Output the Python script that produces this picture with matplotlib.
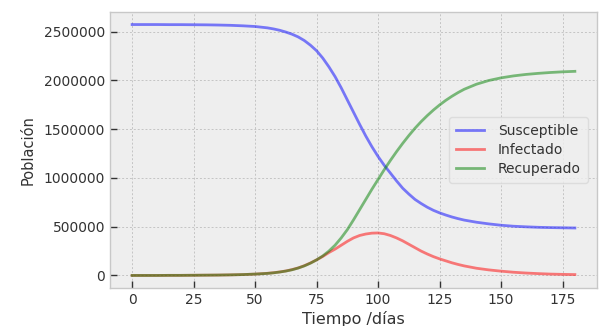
import matplotlib
matplotlib.use("Agg")
import matplotlib.pyplot as plt

# Días de simulación (más densos donde las curvas cambian rápido)
dias = [0, 5, 10, 15, 20, 25, 30, 35, 40, 45, 50,
        55, 57.5, 60, 62.5, 65, 67.5, 70, 72.5, 75, 77.5,
        80, 82.5, 85, 87.5, 90, 92.5, 95, 97.5,
        100, 102.5, 105, 107.5, 110, 112.5, 115, 117.5,
        120, 122.5, 125, 127.5, 130, 132.5, 135,
        140, 145, 150, 155, 160, 165, 170, 175, 180]

# Poblaciones en millones de personas
susceptibles = [2.574, 2.574, 2.574, 2.573, 2.573, 2.572, 2.571, 2.569, 2.566, 2.561, 2.554,
                2.540, 2.529, 2.515, 2.497, 2.475, 2.447, 2.410, 2.362, 2.305, 2.230,
                2.140, 2.040, 1.925, 1.800, 1.675, 1.550, 1.430, 1.320,
                1.220, 1.130, 1.050, 0.970, 0.895, 0.835, 0.780, 0.738,
                0.700, 0.668, 0.642, 0.620, 0.600, 0.583, 0.568,
                0.546, 0.529, 0.515, 0.505, 0.499, 0.494, 0.491, 0.489, 0.487]

infectados = [0.000, 0.000, 0.000, 0.001, 0.001, 0.002, 0.003, 0.004, 0.006, 0.009, 0.014,
              0.022, 0.028, 0.036, 0.046, 0.060, 0.077, 0.100, 0.128, 0.160, 0.195,
              0.235, 0.270, 0.310, 0.350, 0.385, 0.410, 0.425, 0.434,
              0.436, 0.428, 0.410, 0.385, 0.355, 0.320, 0.285, 0.250,
              0.220, 0.193, 0.170, 0.150, 0.130, 0.113, 0.098,
              0.074, 0.057, 0.044, 0.033, 0.025, 0.019, 0.014, 0.011, 0.009]

recuperados = [0.000, 0.000, 0.000, 0.001, 0.001, 0.002, 0.003, 0.004, 0.006, 0.009, 0.014,
               0.021, 0.027, 0.035, 0.045, 0.058, 0.076, 0.098, 0.126, 0.160, 0.200,
               0.250, 0.310, 0.385, 0.470, 0.570, 0.675, 0.780, 0.885,
               0.985, 1.085, 1.180, 1.270, 1.355, 1.435, 1.510, 1.578,
               1.640, 1.697, 1.749, 1.796, 1.838, 1.876, 1.910,
               1.962, 2.000, 2.027, 2.047, 2.062, 2.073, 2.082, 2.089, 2.094]

series = [
    ("Susceptible", susceptibles, "b"),
    ("Infectado", infectados, "r"),
    ("Recuperado", recuperados, "g"),
]

fig = plt.figure(figsize=(5.99, 3.26), dpi=100)
ax = fig.add_axes([110 / 599, 1 - 288 / 326, (597 - 110) / 599, (288 - 12) / 326])
ax.set_facecolor("#eeeeee")
ax.set_axisbelow(True)

for nombre, valores, color in series:
    ax.plot(dias, [v * 1e6 for v in valores], color=color, alpha=0.5, lw=2, label=nombre)

ax.set_xlabel("Tiempo /días", fontsize=11.5, color="#333333", labelpad=3)
ax.set_ylabel("Población", fontsize=10.5, color="#333333", labelpad=6)
ax.set_xticks(range(0, 176, 25))
ax.set_yticks(range(0, 2500001, 500000))
ax.ticklabel_format(axis="y", style="plain", useOffset=False)
ax.tick_params(direction="in", length=5, width=1, labelsize=10,
               color="#333333", labelcolor="#333333")

ax.grid(True, color="#c4c4c4", linestyle="--", linewidth=0.7, dashes=(2, 2))
for s in ax.spines.values():
    s.set_color("#c8c8c8")
    s.set_linewidth(1)

leg = ax.legend(loc="center right", fontsize=10, frameon=True, fancybox=True,
                labelspacing=0.35, borderaxespad=0.65, handletextpad=1.0,
                borderpad=0.5)
leg.get_frame().set_facecolor("#efefef")
leg.get_frame().set_edgecolor("#d8d8d8")
for t in leg.get_texts():
    t.set_color("#333333")

fig.savefig("out.png", dpi=100)
